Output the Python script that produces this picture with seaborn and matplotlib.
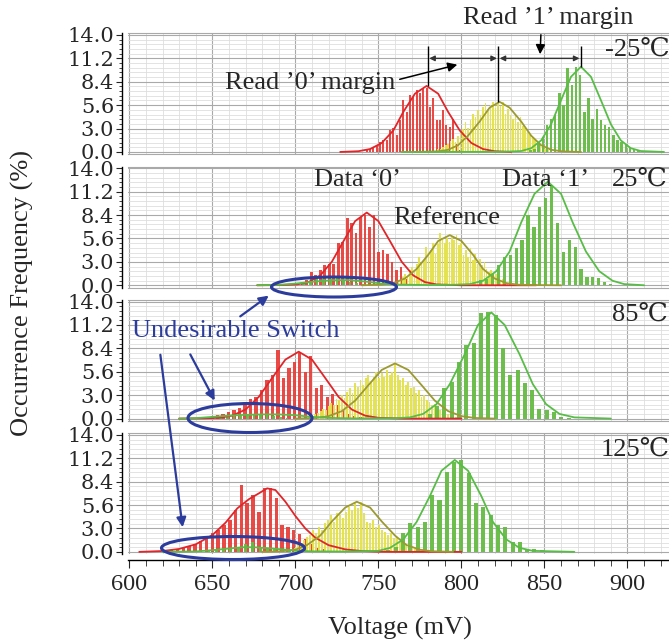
import numpy as np
import pandas as pd
import matplotlib
matplotlib.use("Agg")
import matplotlib.pyplot as plt
import seaborn as sns
from matplotlib.patches import Ellipse, FancyArrowPatch
from matplotlib.ticker import FixedLocator, FixedFormatter, MultipleLocator

# ---------------- data ----------------
temps = ["-25\u2103", "25\u2103", "85\u2103", "125\u2103"]

ytick_pos = [0.0, 2.8, 5.6, 8.4, 11.2, 14.0]
ytick_lab = ["0.0", "3.0", "5.6", "8.4", "11.2", "14.0"]

# histogram bars: first bin centre (mV), bin width (mV), heights (%)
red_p1_start, red_p1_step = 743, 2.0
red_p1 = [0.2, 0.3, 0.45, 0.8, 1.2, 1.4, 1.4, 2.6, 2.9, 2.0, 3.8, 6.2, 4.8, 6.8, 6.6,
          7.4, 7.0, 7.6, 7.7, 5.4, 6.4, 3.8, 3.8, 5.0, 3.2, 3.0, 4.0, 1.0, 0.2]
yel_p1_start, yel_p1_step = 786, 1.5
yel_p1 = [0.3, 0.4, 0.6, 0.8, 1.0, 1.3, 1.5, 1.2, 1.9, 2.5,
          2.8, 3.6, 2.9, 3.8, 4.6, 4.2, 5.0, 4.4, 5.4, 5.8,
          5.1, 5.6, 6.0, 5.3, 5.8, 5.5, 6.0, 4.6, 5.2, 4.4,
          3.9, 4.5, 3.6, 4.2, 3.1, 2.9, 2.4, 2.0, 1.8, 1.4,
          1.0, 0.8, 0.5, 0.3, 0.2]
grn_p1_start, grn_p1_step = 839, 2.5
grn_p1 = [0.05, 0.2, 0.4, 1.2, 1.8, 3.2, 4.0, 4.4, 7.0, 5.6, 10.0, 8.0, 10.2, 9.2, 4.8,
          6.4, 4.0, 5.2, 3.8, 3.2, 3.0, 2.0, 1.4, 1.2, 1.0, 0.6, 0.4, 0.2, 0.1]

red_p2_start, red_p2_step = 690.7, 2.7
red_p2 = [0.1, 0.15, 0.2, 0.3, 0.2, 0.4, 0.6, 1.6, 1.2, 1.8, 2.4, 2.6, 2.6, 5.0, 5.2,
          8.0, 7.4, 6.2, 8.2, 8.4, 7.0, 8.4, 4.0, 4.2, 3.8, 2.8, 1.8, 2.2, 0.8, 0.2]
yel_p2_start, yel_p2_step = 762, 1.4
yel_p2 = [0.4, 0.6, 1.0, 1.3, 1.0, 1.8, 2.2, 1.6, 2.6, 3.4,
          2.8, 3.0, 4.6, 3.6, 4.2, 5.0, 3.8, 4.9, 6.2, 5.4,
          5.0, 5.6, 5.2, 5.8, 5.4, 6.0, 4.8, 5.0, 3.6, 4.2,
          3.4, 4.4, 3.0, 3.8, 2.6, 3.2, 2.4, 2.8, 2.0, 1.6,
          1.8, 1.2, 1.4, 0.9, 0.6, 0.8, 0.4, 0.3, 0.2]
grn_p2_start, grn_p2_step = 811.7, 3.55
grn_p2 = [0.6, 0.8, 1.4, 2.4, 3.4, 3.6, 4.4, 5.4, 8.4, 7.0, 9.4, 10.4, 12.0, 7.4, 4.0,
          5.4, 4.6, 2.0, 1.0, 1.0, 0.9, 0.4, 0.2]
grn_p2_low_start, grn_p2_low_step = 705, 4.0
grn_p2_low = [0.3, 0.5, 0.95, 0.8, 0.7, 0.95, 0.6, 0.4, 0.25, 0.15]

red_p3_start, red_p3_step = 640, 3.3
red_p3 = [0.1, 0.15, 0.2, 0.3, 0.4, 0.6, 0.8, 1.0, 1.3, 1.8, 2.4, 2.6, 3.4, 4.6, 5.2, 8.2,
          4.8, 6.0, 6.8, 7.8, 5.6, 7.5, 3.6, 4.0, 2.6, 2.9, 1.6, 1.2, 0.6, 0.3, 0.15]
yel_p3_start, yel_p3_step = 712, 1.6
yel_p3 = [0.5, 0.7, 0.9, 1.2, 1.0, 1.5, 1.9, 1.6, 2.4, 2.2,
          2.8, 2.5, 3.2, 3.6, 3.0, 4.2, 3.8, 4.6, 4.0, 4.8,
          5.2, 4.4, 5.0, 5.6, 4.8, 5.4, 5.0, 5.8, 5.2, 5.6,
          6.6, 5.2, 4.6, 4.8, 4.0, 4.4, 3.6, 3.8, 3.0, 3.4,
          2.6, 2.8, 2.2, 2.0, 1.6, 1.8, 1.2, 1.0, 0.8, 0.6,
          0.5, 0.4, 0.3, 0.2, 0.1]
grn_p3_start, grn_p3_step = 781, 4.4
grn_p3 = [0.6, 1.5, 3.6, 4.4, 6.8, 8.8, 9.0, 12.6, 12.7, 12.4, 8.4, 5.2, 5.8, 4.2, 3.4,
          1.2, 1.0, 0.8, 0.2, 0.1]
grn_p3_low_start, grn_p3_low_step = 655, 4.0
grn_p3_low = [0.15, 0.25, 0.35, 0.4, 0.5, 0.45, 0.5, 0.4, 0.3, 0.2, 0.1]

red_p4_start, red_p4_step = 622, 3.5
red_p4 = [0.1, 0.2, 0.3, 0.5, 0.7, 1.0, 1.3, 1.7, 2.2, 2.6, 3.2, 3.8, 5.0, 8.0, 5.8,
          6.8, 4.8, 7.7, 7.7, 6.4, 3.2, 3.0, 2.6, 2.1, 1.5, 1.0, 0.5, 0.3, 0.15]
yel_p4_start, yel_p4_step = 700, 1.8
yel_p4 = [0.5, 0.8, 1.0, 1.4, 1.8, 2.0, 2.6, 2.2, 3.0, 2.6,
          3.4, 3.8, 4.4, 3.6, 4.6, 4.4, 4.0, 4.8, 5.4, 5.0,
          5.8, 5.2, 6.0, 4.6, 3.6, 3.4, 3.8, 3.0, 3.2, 2.6,
          2.4, 2.0, 2.2, 1.6, 1.8, 1.2, 1.0, 0.9, 0.7, 0.5,
          0.4, 0.3, 0.2, 0.1]
grn_p4_start, grn_p4_step = 756, 4.4
grn_p4 = [0.2, 0.6, 2.2, 3.4, 3.0, 3.6, 6.8, 6.2, 9.6, 10.8, 11.0, 9.4, 5.8, 5.4, 4.4,
          3.2, 3.0, 1.2, 1.2, 0.4, 0.3, 0.2]
grn_p4_low_start, grn_p4_low_step = 648, 4.4
grn_p4_low = [0.15, 0.3, 0.4, 0.5, 0.6, 1.0, 1.2, 0.6, 0.5, 0.4, 0.3, 0.2]

# fitted curves (mV, %)
red_p1_cx = [727, 738, 745, 752, 759, 765, 772, 779, 786, 792, 799, 806, 813, 820, 830]
red_p1_cy = [0, 0.09, 0.35, 1.07, 2.57, 4.79, 6.97, 7.9, 6.97, 4.79, 2.57, 1.07, 0.35, 0.09, 0]
yel_p1_cx = [772, 786, 792, 798, 804, 811, 817, 823, 829, 836, 842, 848, 854, 861, 872]
yel_p1_cy = [0, 0.07, 0.26, 0.81, 1.95, 3.64, 5.30, 6.0, 5.30, 3.64, 1.95, 0.81, 0.26, 0.07, 0]
grn_p1_cx = [764, 825, 836, 842, 848, 854, 860, 866, 872, 878, 884, 890, 896, 902, 908, 922]
grn_p1_cy = [0, 0.02, 0.11, 0.45, 1.38, 3.31, 6.19, 9.0, 10.2, 9.0, 6.19, 3.31, 1.38, 0.45, 0.11, 0]

red_p2_cx = [677, 690, 701, 708, 715, 722, 729, 736, 743, 750, 757, 764, 771, 778, 785, 800, 845]
red_p2_cy = [0, 0.02, 0.10, 0.38, 1.18, 2.82, 5.28, 7.68, 8.7, 7.68, 5.28, 2.82, 1.18, 0.38, 0.10, 0, 0]
yel_p2_cx = [740, 752, 759, 766, 773, 780, 786, 793, 800, 807, 813, 820, 827, 834, 845, 860]
yel_p2_cy = [0, 0.07, 0.26, 0.81, 1.95, 3.64, 5.30, 6.0, 5.30, 3.64, 1.95, 0.81, 0.26, 0.07, 0.02, 0]
grn_p2_cx = [677, 690, 700, 712, 722, 732, 742, 752, 762, 780, 795, 805, 813, 821, 829, 836,
             844, 852, 860, 867, 875, 883, 891, 898, 910]
grn_p2_cy = [0, 0.05, 0.2, 0.45, 0.6, 0.62, 0.45, 0.2, 0.08, 0.03, 0.06, 0.14, 0.54, 1.68, 4.03,
             7.52, 10.94, 12.4, 10.94, 7.52, 4.03, 1.68, 0.54, 0.14, 0]

red_p3_cx = [630, 645, 654, 662, 670, 678, 686, 694, 702, 710, 718, 726, 734, 742, 750, 765, 800]
red_p3_cy = [0, 0.03, 0.09, 0.35, 1.08, 2.60, 4.85, 7.06, 8.0, 7.06, 4.85, 2.60, 1.08, 0.35, 0.09, 0, 0]
yel_p3_cx = [700, 712, 720, 728, 736, 744, 752, 760, 768, 776, 784, 792, 800, 808, 820]
yel_p3_cy = [0, 0.07, 0.29, 0.89, 2.14, 4.0, 5.82, 6.6, 5.82, 4.0, 2.14, 0.89, 0.29, 0.07, 0]
grn_p3_cx = [630, 640, 650, 660, 670, 680, 690, 700, 710, 720, 735, 760, 769, 777, 785, 793,
             802, 810, 818, 826, 835, 843, 851, 859, 868, 890]
grn_p3_cy = [0, 0.05, 0.2, 0.35, 0.45, 0.5, 0.5, 0.4, 0.2, 0.08, 0.02, 0.04, 0.14, 0.56, 1.72,
             4.12, 7.70, 11.21, 12.7, 11.21, 7.70, 4.12, 1.72, 0.56, 0.14, 0]

red_p4_cx = [606, 620, 630, 640, 650, 658, 665, 672, 678, 683, 688, 694, 700, 706, 712, 720,
             730, 740, 750, 760, 800]
red_p4_cy = [0, 0.1, 0.35, 0.9, 2.0, 3.5, 5.2, 6.3, 7.0, 7.6, 7.4, 6.0, 4.3, 2.8, 1.7, 0.8,
             0.3, 0.1, 0.02, 0, 0]
yel_p4_cx = [680, 692, 700, 707, 715, 722, 730, 737, 745, 752, 760, 767, 775, 782, 795]
yel_p4_cy = [0, 0.07, 0.26, 0.81, 1.95, 3.64, 5.30, 6.0, 5.30, 3.64, 1.95, 0.81, 0.26, 0.07, 0]
grn_p4_cx = [620, 640, 650, 660, 668, 675, 683, 692, 700, 710, 730, 750, 757, 765, 773, 781,
             788, 796, 804, 812, 819, 827, 835, 843, 868]
grn_p4_cy = [0, 0.05, 0.2, 0.4, 0.55, 0.55, 0.45, 0.3, 0.15, 0.06, 0.04, 0.12, 0.48, 1.49,
             3.57, 6.67, 9.71, 11.0, 9.71, 6.67, 3.57, 1.49, 0.48, 0.12, 0]

# read-margin markers in the -25C panel (peak voltage, peak height)
marker_x = [779.8, 822.2, 871.9]
marker_y = [7.9, 6.0, 10.2]
marker_top = 12.7
margin_arrow_y = 11.2

# ---------------- style ----------------
RED_BAR, RED_LINE = "#e8403c", "#e0262a"
YEL_BAR, YEL_LINE = "#e4e24a", "#9c9a30"
GRN_BAR, GRN_LINE = "#66bb44", "#58bd46"
BLUE = "#2c3c9c"

sns.set_style("white")
plt.rcParams["font.family"] = ["Liberation Serif", "DejaVu Serif", "DejaVu Sans"]

W, H = 669, 643
fig = plt.figure(figsize=(W / 100, H / 100), dpi=100)


def fxy(px, py):
    return (px / W, 1 - py / H)


def draw_bars(ax, start, step, heights, color, shrink):
    df = pd.DataFrame({"v": start + step * np.arange(len(heights)), "h": heights})
    sns.histplot(data=df, x="v", weights="h", binwidth=step,
                 binrange=(start - step / 2, df["v"].iloc[-1] + step / 2 - 1e-6),
                 shrink=shrink, color=color, alpha=0.95, linewidth=0,
                 ax=ax, zorder=2)


bars = [
    [(red_p1_start, red_p1_step, red_p1, RED_BAR, 0.6),
     (yel_p1_start, yel_p1_step, yel_p1, YEL_BAR, 0.7),
     (grn_p1_start, grn_p1_step, grn_p1, GRN_BAR, 0.6)],
    [(red_p2_start, red_p2_step, red_p2, RED_BAR, 0.6),
     (yel_p2_start, yel_p2_step, yel_p2, YEL_BAR, 0.7),
     (grn_p2_start, grn_p2_step, grn_p2, GRN_BAR, 0.55),
     (grn_p2_low_start, grn_p2_low_step, grn_p2_low, GRN_BAR, 0.4)],
    [(red_p3_start, red_p3_step, red_p3, RED_BAR, 0.6),
     (yel_p3_start, yel_p3_step, yel_p3, YEL_BAR, 0.7),
     (grn_p3_start, grn_p3_step, grn_p3, GRN_BAR, 0.55),
     (grn_p3_low_start, grn_p3_low_step, grn_p3_low, GRN_BAR, 0.4)],
    [(red_p4_start, red_p4_step, red_p4, RED_BAR, 0.6),
     (yel_p4_start, yel_p4_step, yel_p4, YEL_BAR, 0.7),
     (grn_p4_start, grn_p4_step, grn_p4, GRN_BAR, 0.55),
     (grn_p4_low_start, grn_p4_low_step, grn_p4_low, GRN_BAR, 0.4)],
]
curves = [
    [(red_p1_cx, red_p1_cy, RED_LINE), (yel_p1_cx, yel_p1_cy, YEL_LINE), (grn_p1_cx, grn_p1_cy, GRN_LINE)],
    [(red_p2_cx, red_p2_cy, RED_LINE), (yel_p2_cx, yel_p2_cy, YEL_LINE), (grn_p2_cx, grn_p2_cy, GRN_LINE)],
    [(red_p3_cx, red_p3_cy, RED_LINE), (yel_p3_cx, yel_p3_cy, YEL_LINE), (grn_p3_cx, grn_p3_cy, GRN_LINE)],
    [(red_p4_cx, red_p4_cy, RED_LINE), (yel_p4_cx, yel_p4_cy, YEL_LINE), (grn_p4_cx, grn_p4_cy, GRN_LINE)],
]

left_px, top0_px, step_px, h_px = 128.3, 33.3, 133.3, 121.0
axes = []
for i in range(4):
    top = top0_px + i * step_px
    ax = fig.add_axes([left_px / W, 1 - (top + h_px) / H, (W - left_px) / W, h_px / H])
    axes.append(ax)

    for start, step, heights, color, shrink in bars[i]:
        draw_bars(ax, start, step, heights, color, shrink)
    for cx, cy, color in curves[i]:
        sns.lineplot(x=cx, y=cy, color=color, lw=1.3, ax=ax, zorder=4)

    ax.set_xlim(599.4, 925)
    ax.set_ylim(-0.28, 14.2)
    ax.set_xlabel("")
    ax.set_ylabel("")

    ax.xaxis.set_major_locator(MultipleLocator(50))
    ax.xaxis.set_minor_locator(MultipleLocator(10))
    ax.yaxis.set_major_locator(FixedLocator(ytick_pos))
    ax.yaxis.set_major_formatter(FixedFormatter(ytick_lab))
    ax.yaxis.set_minor_locator(FixedLocator(np.arange(0, 14.01, 0.56)))

    ax.set_axisbelow(True)
    ax.grid(True, which="major", color="#a9a9a9", lw=0.8)
    ax.grid(True, which="minor", color="#dedede", lw=0.6)

    ax.spines["left"].set_position(("outward", 4.7))
    ax.spines["left"].set_color("black")
    ax.spines["left"].set_linewidth(1.0)
    ax.spines["right"].set_visible(False)
    ax.spines["top"].set_color("#a9a9a9")
    ax.spines["top"].set_linewidth(0.8)
    # the reference's y labels are wide, so a wider serif face is used for them
    ax.tick_params(axis="y", which="major", direction="out", length=4, width=0.8,
                   pad=1.5, left=True, labelsize=15, labelfontfamily="DejaVu Serif")
    ax.tick_params(axis="y", which="minor", direction="out", length=2.5, width=0.6, left=True)

    if i < 3:
        ax.spines["bottom"].set_color("#a9a9a9")
        ax.spines["bottom"].set_linewidth(0.8)
        ax.tick_params(axis="x", which="both", length=0, labelbottom=False)
    else:
        ax.spines["bottom"].set_position(("outward", 4.3))
        ax.spines["bottom"].set_color("black")
        ax.spines["bottom"].set_linewidth(1.0)
        ax.tick_params(axis="x", which="major", direction="out", length=6, width=0.8,
                       labelsize=17.5, pad=4, bottom=True)
        ax.tick_params(axis="x", which="minor", direction="out", length=4, width=0.6, bottom=True)

# read margin markers and arrows in the top panel
ax0 = axes[0]
ax0.vlines(marker_x, marker_y, marker_top, color="black", lw=1.0, zorder=5)
for a, b in zip(marker_x[:-1], marker_x[1:]):
    ax0.annotate("", xy=(b - 0.8, margin_arrow_y), xytext=(a + 0.8, margin_arrow_y),
                 arrowprops=dict(arrowstyle="<|-|>", color="#333333", lw=1.0,
                                 mutation_scale=8, shrinkA=0, shrinkB=0), zorder=5)

# axis titles
fig.text(*fxy(22, 293), "Occurrence Frequency (%)", rotation=90, ha="center", va="center", fontsize=19)
fig.text(*fxy(400, 628), "Voltage (mV)", ha="center", va="center", fontsize=19)

# annotations
txt = dict(ha="center", va="center", fontsize=19)
fig.text(*fxy(548, 18), "Read \u20191\u2019 margin", **txt)
fig.text(*fxy(310, 83), "Read \u20190\u2019 margin", **txt)
fig.text(*fxy(357, 180), "Data \u20180\u2019", **txt)
fig.text(*fxy(545, 180), "Data \u20181\u2019", **txt)
fig.text(*fxy(447, 218), "Reference", **txt)
fig.text(*fxy(236, 331), "Undesirable Switch", color=BLUE, **txt)
for (px, py), label in zip([(637, 50), (640, 180), (640, 315), (635, 450)], temps):
    fig.text(*fxy(px, py), label, ha="center", va="center", fontsize=19)

arrows = [((397, 80), (460, 64), "black"), ((541, 32), (540, 57), "black"),
          ((238, 318), (271, 294), BLUE), ((189, 352), (216, 403), BLUE),
          ((160, 352), (183, 530), BLUE)]
for p0, p1, col in arrows:
    fig.add_artist(FancyArrowPatch(fxy(*p0), fxy(*p1), transform=fig.transFigure,
                                   arrowstyle="-|>", mutation_scale=14, color=col,
                                   lw=1.6 if col == BLUE else 1.1, zorder=10))

for (cx, cy), w, h in [((334, 287), 125, 20), ((250, 418), 124, 29), ((233, 548), 143, 23)]:
    fig.add_artist(Ellipse(fxy(cx, cy), w / W, h / H, transform=fig.transFigure,
                           fill=False, ec=BLUE, lw=2.2, zorder=10))

fig.savefig("out.png", dpi=100)
